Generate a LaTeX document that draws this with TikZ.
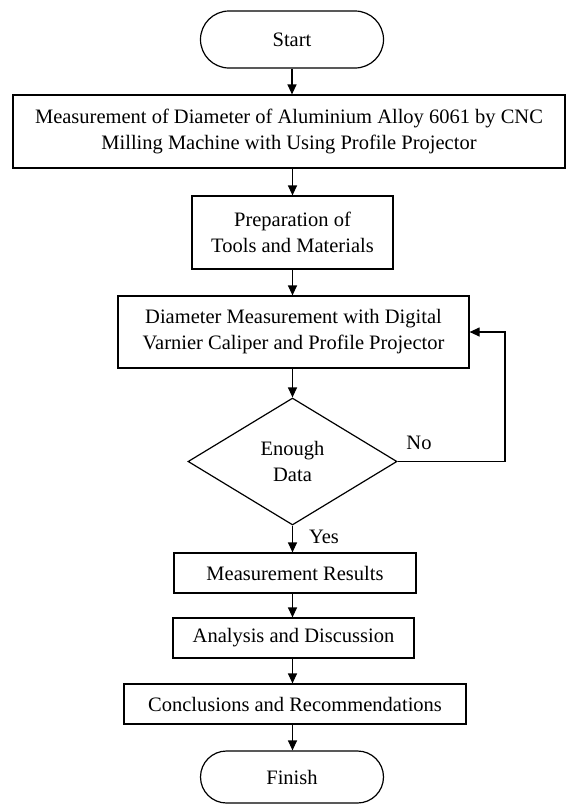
\documentclass[tikz,border=0pt]{standalone}
\usepackage{fontspec}
\setmainfont{Liberation Serif}
\newfontfamily\timesfont{Liberation Serif}
\usetikzlibrary{positioning,shapes.geometric,shapes.misc,arrows.meta}

\begin{document}
\begin{tikzpicture} [x=1pt, y=-1pt, line width=1.2pt,
	every node/.style={font=\timesfont\fontsize{20.5}{26}\selectfont},
	box/.style={draw, rectangle, align=center, inner sep=0pt},
	terminal/.style={draw, rounded rectangle, minimum width=183pt, inner sep=0pt},
	decision/.style={draw, diamond, align=center, inner sep=0pt, minimum width=209pt, minimum height=127pt},
	flow/.style={-{Triangle[length=10pt, width=9pt]}}]
	\useasboundingbox (0, 0) rectangle (566, 804);
	% steps
	\node [terminal, minimum height=57pt] (start) at (292, 39.5) {Start};
	\node [box, minimum width=552pt, minimum height=73pt] (measure) at (289, 131.5) {Measurement of Diameter of Aluminium Alloy 6061 by CNC\\Milling Machine with Using Profile Projector};
	\node [box, minimum width=201pt, minimum height=73pt] (prep) at (292.5, 232.5) {Preparation of\\Tools and Materials};
	\node [box, minimum width=351pt, minimum height=72pt] (diameter) at (293.5, 332) {Diameter Measurement with Digital\\Varnier Caliper and Profile Projector};
	\node [decision] (enough) at (292.5, 461.5) {Enough\\Data};
	\node [box, minimum width=242pt, minimum height=40pt] (results) at (295, 573) {Measurement Results};
	\node [box, minimum width=241pt, minimum height=40pt] (analysis) at (293.5, 638) {Analysis and Discussion};
	\node [box, minimum width=342pt, minimum height=40pt] (conclusion) at (295, 704) {Conclusions and Recommendations};
	\node [terminal, minimum height=52pt] (finish) at (292, 777) {Finish};
	% labels
	\node (no) at (419, 443) {No};
	\node (yes) at (324, 537) {Yes};
	% arrows
	\draw [flow] (start.south) -- (start.south |- measure.north);
	\draw [flow] (prep.north |- measure.south) -- (prep.north);
	\draw [flow] (prep.south) -- (prep.south |- diameter.north);
	\draw [flow] (enough.north |- diameter.south) -- (enough.north);
	\draw [flow] (enough.south) -- (enough.south |- results.north);
	\draw [flow] (enough.south |- results.south) -- (enough.south |- analysis.north);
	\draw [flow] (enough.south |- analysis.south) -- (enough.south |- conclusion.north);
	\draw [flow] (enough.south |- conclusion.south) -- (enough.south |- finish.north);
	\coordinate (loop) at (505, 461.5);
	\draw [flow] (enough.east) -- (loop) |- (diameter.east);
\end{tikzpicture}
\end{document}
